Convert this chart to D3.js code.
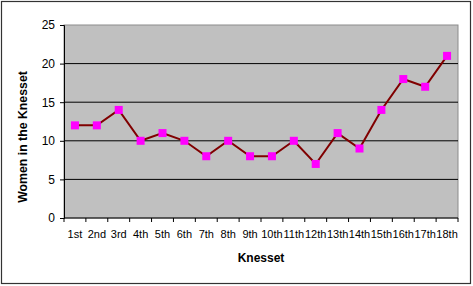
<!DOCTYPE html>
<html>
<head>
<meta charset="utf-8">
<script src="https://cdn.jsdelivr.net/npm/d3@7"></script>
<style>
  body { margin: 0; background: #fff; }
  text { font-family: "Liberation Sans", Arial, sans-serif; }
</style>
</head>
<body>
<div id="chart"></div>
<script>
// data
const knessets = ["1st","2nd","3rd","4th","5th","6th","7th","8th","9th","10th","11th","12th","13th","14th","15th","16th","17th","18th"]
const women = [12, 12, 14, 10, 11, 10, 8, 10, 8, 8, 10, 7, 11, 9, 14, 18, 17, 21]
const yTicks = [0, 5, 10, 15, 20, 25]

const width = 473, height = 286
const margin = {top: 25, right: 15, bottom: 68, left: 64}
const plotW = width - margin.left - margin.right
const plotH = height - margin.top - margin.bottom

const svg = d3.select("#chart")
    .append("svg")
    .attr("width", width)
    .attr("height", height)

// outer frame
svg.append("rect")
    .attr("x", 1.5).attr("y", 1.5)
    .attr("width", width - 4).attr("height", height - 4)
    .attr("fill", "#fff")
    .attr("stroke", "#333")
    .attr("stroke-width", 1.2)

const g = svg.append("g")
    .attr("transform", "translate(" + margin.left + "," + margin.top + ")")

const x = d3.scaleBand()
    .domain(knessets)
    .range([0, plotW])

const y = d3.scaleLinear()
    .domain([0, 25])
    .range([plotH, 0])

// plot area
g.append("rect")
    .attr("width", plotW)
    .attr("height", plotH)
    .attr("fill", "#c0c0c0")
    .attr("stroke", "#8c8c8c")
    .attr("stroke-width", 1)

// gridlines
g.append("g")
    .selectAll("line")
    .data(yTicks.filter(d => d > 0 && d < 25))
    .enter()
    .append("line")
    .attr("x1", 0).attr("x2", plotW)
    .attr("y1", d => y(d)).attr("y2", d => y(d))
    .attr("stroke", "#000")
    .attr("stroke-width", 1)

// y axis
const yAxis = g.append("g")
    .call(d3.axisLeft(y).tickValues(yTicks).tickSize(4).tickPadding(5))
yAxis.selectAll("text").style("font-size", "12px").attr("fill", "#000")
yAxis.selectAll("line, path").attr("stroke", "#000")

// x axis, ticks at band boundaries
const xAxis = g.append("g")
    .attr("transform", "translate(0," + plotH + ")")
xAxis.append("line")
    .attr("x1", 0).attr("x2", plotW)
    .attr("stroke", "#000")
xAxis.selectAll("line.tick")
    .data(knessets.concat(["end"]))
    .enter()
    .append("line")
    .attr("class", "tick")
    .attr("x1", (d, i) => i < knessets.length ? x(d) : plotW)
    .attr("x2", (d, i) => i < knessets.length ? x(d) : plotW)
    .attr("y1", 0).attr("y2", 4)
    .attr("stroke", "#000")
xAxis.selectAll("text")
    .data(knessets)
    .enter()
    .append("text")
    .attr("x", d => x(d) + x.bandwidth() / 2)
    .attr("y", 20)
    .attr("text-anchor", "middle")
    .style("font-size", "11px")
    .text(d => d)

// line
g.append("path")
    .datum(women)
    .attr("fill", "none")
    .attr("stroke", "#800000")
    .attr("stroke-width", 2)
    .attr("d", d3.line()
        .x((d, i) => x(knessets[i]) + x.bandwidth() / 2)
        .y(d => y(d)))

// markers
g.append("g")
    .selectAll("rect")
    .data(women)
    .enter()
    .append("rect")
    .attr("x", (d, i) => x(knessets[i]) + x.bandwidth() / 2 - 4)
    .attr("y", d => y(d) - 4)
    .attr("width", 8).attr("height", 8)
    .attr("fill", "#ff00ff")

// axis titles
svg.append("text")
    .attr("x", margin.left + plotW / 2)
    .attr("y", 262)
    .attr("text-anchor", "middle")
    .style("font-size", "12px")
    .style("font-weight", "bold")
    .text("Knesset")

svg.append("text")
    .attr("transform", "translate(27,137) rotate(-90)")
    .attr("text-anchor", "middle")
    .style("font-size", "12.3px")
    .style("font-weight", "bold")
    .text("Women in the Knesset")
</script>
</body>
</html>
